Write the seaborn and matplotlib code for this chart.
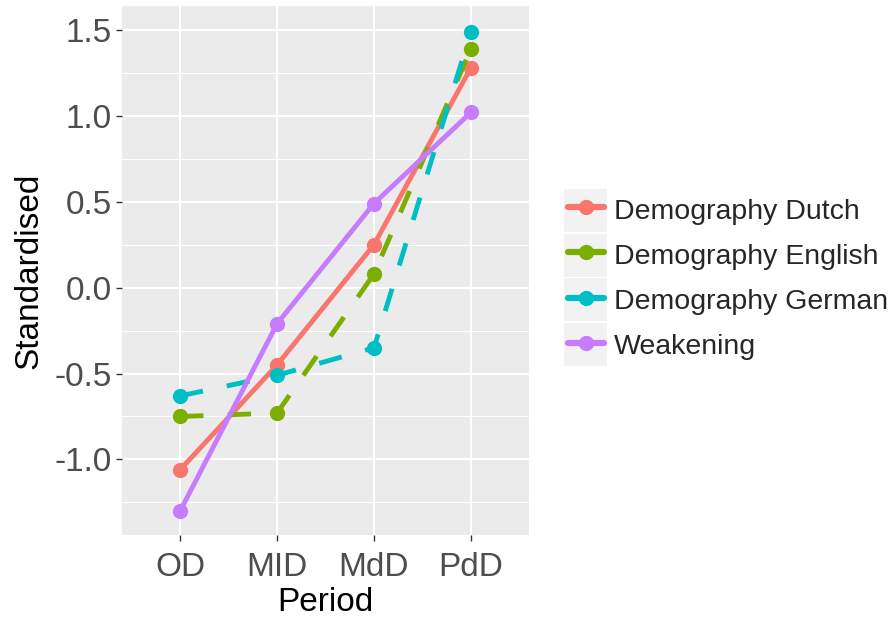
import seaborn as sns
import matplotlib.pyplot as plt
import pandas as pd
from matplotlib.patches import Rectangle

# values
periods = ["OD", "MID", "MdD", "PdD"]
dutch = [-1.06, -0.45, 0.25, 1.28]
english = [-0.75, -0.73, 0.08, 1.39]
german = [-0.63, -0.51, -0.35, 1.49]
weakening = [-1.30, -0.21, 0.49, 1.02]

series_names = ["Demography Dutch", "Demography English", "Demography German", "Weakening"]
series_values = [dutch, english, german, weakening]
palette = ["#F8766D", "#7CAE00", "#00BFC4", "#C77CFF"]

rows = []
for name, vals in zip(series_names, series_values):
    for p, v in zip(periods, vals):
        rows.append({"Period": p, "Standardised": v, "series": name})
df = pd.DataFrame(rows)

sns.set_style("darkgrid", {"axes.facecolor": "#EBEBEB", "grid.color": "white"})
plt.rcParams["font.family"] = ["Liberation Sans", "DejaVu Sans"]

fig = plt.figure(figsize=(8.93, 6.17), dpi=100)
ax = fig.add_axes([122 / 893, (617 - 535) / 617, (529 - 122) / 893, (535 - 6) / 617])

dash_map = {
    "Demography Dutch": "",
    "Demography English": (4.8, 5),
    "Demography German": (4.8, 5),
    "Weakening": "",
}
sns.lineplot(data=df, x="Period", y="Standardised", hue="series", style="series",
             hue_order=series_names, style_order=series_names,
             palette=palette, dashes=dash_map, markers=["o"] * 4,
             markersize=11, markeredgewidth=0, linewidth=3.5, ax=ax, sort=False)

ax.set_xlim(-0.6, 3.6)
ax.set_ylim(-1.44, 1.64)
ax.set_yticks([-1.0, -0.5, 0.0, 0.5, 1.0, 1.5])
ax.set_yticklabels(["-1.0", "-0.5", "0.0", "0.5", "1.0", "1.5"])
ax.set_yticks([-1.25, -0.75, -0.25, 0.25, 0.75, 1.25], minor=True)
ax.grid(True, which="major", color="white", linewidth=1.5)
ax.grid(True, which="minor", axis="y", color="white", linewidth=0.7)
ax.set_axisbelow(True)
for s in ax.spines.values():
    s.set_visible(False)

ax.tick_params(axis="both", which="major", length=4.3, width=1, color="#333333",
               labelsize=24, labelcolor="#4D4D4D", left=True, bottom=True)
ax.tick_params(axis="y", which="major", pad=3)
ax.tick_params(axis="x", which="major", pad=8)
ax.tick_params(axis="both", which="minor", length=0)
ax.set_xlabel("Period", fontsize=24, color="black", labelpad=3)
ax.set_ylabel("Standardised", fontsize=24, color="black", labelpad=7)

# legend with grey key boxes like ggplot
handles, labels = ax.get_legend_handles_labels()
leg = ax.legend(handles, labels, loc="center left", bbox_to_anchor=(568 / 893, 1 - 278 / 617),
                bbox_transform=fig.transFigure, frameon=False, fontsize=20.5,
                handlelength=1.26, handleheight=1.0, labelspacing=0.585, handletextpad=0.35,
                borderaxespad=0, borderpad=0)
leg.set_zorder(10)
for h in leg.legend_handles:
    h.set_linestyle("-")
    h.set_markersize(11)
    h.set_linewidth(4.5)
for i in range(4):
    top = 189 + i * 44.7
    ax.add_patch(Rectangle((564 / 893, 1 - (top + 43) / 617), 43 / 893, 43 / 617,
                           transform=fig.transFigure, facecolor="#F2F2F2",
                           edgecolor="none", zorder=1, clip_on=False))

fig.savefig("out.png", dpi=100)
